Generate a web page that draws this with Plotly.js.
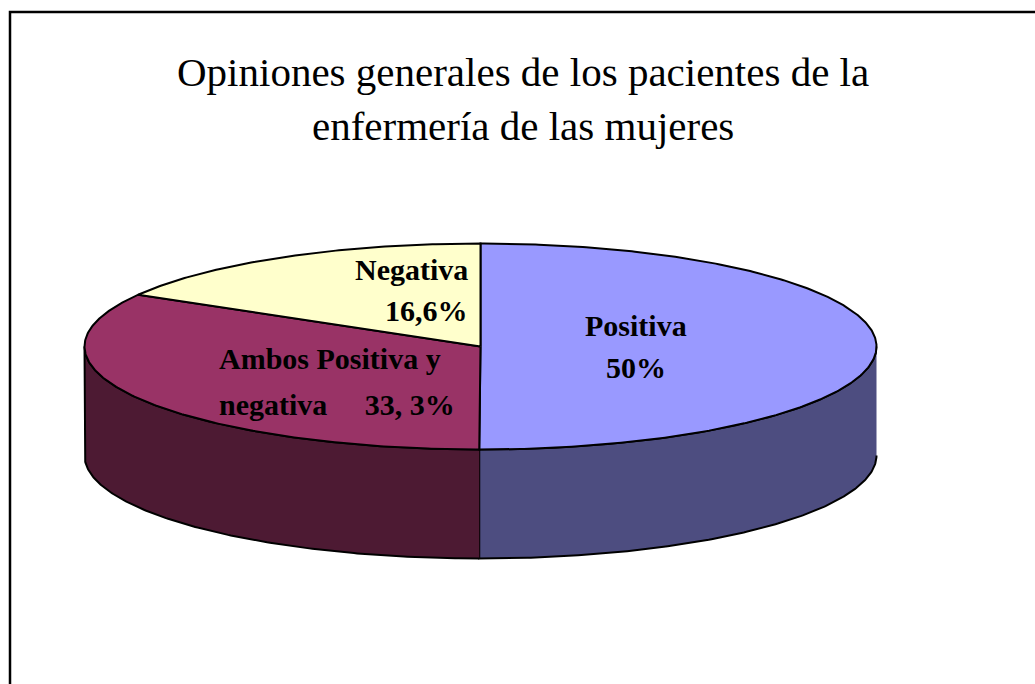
<!DOCTYPE html>
<html>
<head>
<meta charset="utf-8">
<script src="https://cdn.plot.ly/plotly-3.0.1.min.js"></script>
<style>html,body{margin:0;padding:0;background:#fff;}#chart{width:1035px;height:684px;}</style>
</head>
<body>
<div id="chart"></div>
<script>
// ---- data ----
var categories = ["Positiva", "Ambos Positiva y negativa", "Negativa"];
var values = [50, 33.3, 16.6];
var labelLines = [["Positiva", "50%"], ["Ambos Positiva y", "negativa\u00a0\u00a0\u00a0\u00a0 33, 3%"], ["Negativa", "16,6%"]];
var topColors = ["#9999FF", "#993366", "#FFFFCC"];
var sideColors = ["#4D4D80", "#4D1A33", "#80806A"];
var titleLines = ["Opiniones generales de los pacientes de la", "enfermería de las mujeres"];

// ---- geometry (layout, in pixel-mapped axis units) ----
var W = 1035, H = 684;
var cx = 480.5, cy = 346.5, rx = 396, ry = 103, depth = 109;
var serif = "Liberation Serif";
var titleCfg = {x: 523, y: 72, gap: 54, size: 41};
// label placement: anchor x, first-line y, line gap, anchor side
var labelCfg = [
  {x: 636, y: 325, gap: 42, anchor: "center"},
  {x: 217, y: 358, gap: 46, anchor: "left"},
  {x: 470, y: 269, gap: 41, anchor: "right"}
];

function pt(theta, dy) {
  var t = theta * Math.PI / 180;
  return [cx + rx * Math.sin(t), cy - ry * Math.cos(t) + (dy || 0)];
}
function arc(a, b, dy) {
  var n = Math.max(2, Math.ceil(Math.abs(b - a) / 0.5));
  var xs = [], ys = [];
  for (var i = 0; i <= n; i++) {
    var p = pt(a + (b - a) * i / n, dy);
    xs.push(p[0]); ys.push(p[1]);
  }
  return [xs, ys];
}

var total = values.reduce(function (s, v) { return s + v; }, 0);
var starts = [], ends = [];
var acc = 0;
values.forEach(function (v) {
  starts.push(acc / total * 360);
  acc += v;
  ends.push(acc / total * 360);
});

var sideTraces = [], topTraces = [];
values.forEach(function (v, i) {
  var a = starts[i], b = ends[i];
  var s = Math.max(a, 90), e = Math.min(b, 270);
  if (e > s) {
    var up = arc(s, e, 0), dn = arc(e, s, depth);
    sideTraces.push({
      type: "scatter", mode: "lines", x: up[0].concat(dn[0]), y: up[1].concat(dn[1]),
      fill: "toself", fillcolor: sideColors[i], line: {color: "#000", width: 2},
      hoverinfo: "skip", showlegend: false, name: categories[i]
    });
  }
  var ar = arc(a, b, 0);
  topTraces.push({
    type: "scatter", mode: "lines", x: [cx].concat(ar[0]).concat([cx]), y: [cy].concat(ar[1]).concat([cy]),
    fill: "toself", fillcolor: topColors[i], line: {color: "#000", width: 2},
    hoverinfo: "skip", showlegend: false, name: categories[i]
  });
});

var annotations = [];
titleLines.forEach(function (txt, j) {
  annotations.push({
    x: titleCfg.x, y: titleCfg.y + j * titleCfg.gap, xref: "x", yref: "y", text: txt,
    showarrow: false, xanchor: "center", yanchor: "middle",
    font: {family: serif, size: titleCfg.size, color: "#000"}
  });
});
labelLines.forEach(function (lines, i) {
  var c = labelCfg[i];
  lines.forEach(function (txt, j) {
    annotations.push({
      x: c.x, y: c.y + j * c.gap, xref: "x", yref: "y", text: "<b>" + txt + "</b>",
      showarrow: false, xanchor: c.anchor, yanchor: "middle", align: c.anchor,
      font: {family: serif, size: 30, color: "#000"}
    });
  });
});

var layout = {
  width: W, height: H,
  font: {family: serif, color: "#000"},
  margin: {l: 0, r: 0, t: 0, b: 0, pad: 0},
  paper_bgcolor: "#fff", plot_bgcolor: "#fff",
  xaxis: {range: [0, W], visible: false, fixedrange: true},
  yaxis: {range: [H, 0], visible: false, fixedrange: true},
  shapes: [{type: "rect", xref: "x", yref: "y", x0: 10, x1: W + 20, y0: 12, y1: H + 20,
    line: {color: "#000", width: 2.5}, fillcolor: "rgba(0,0,0,0)"}],
  annotations: annotations,
  showlegend: false
};

Plotly.newPlot("chart", sideTraces.concat(topTraces), layout, {staticPlot: true, displayModeBar: false});
</script>
</body>
</html>
